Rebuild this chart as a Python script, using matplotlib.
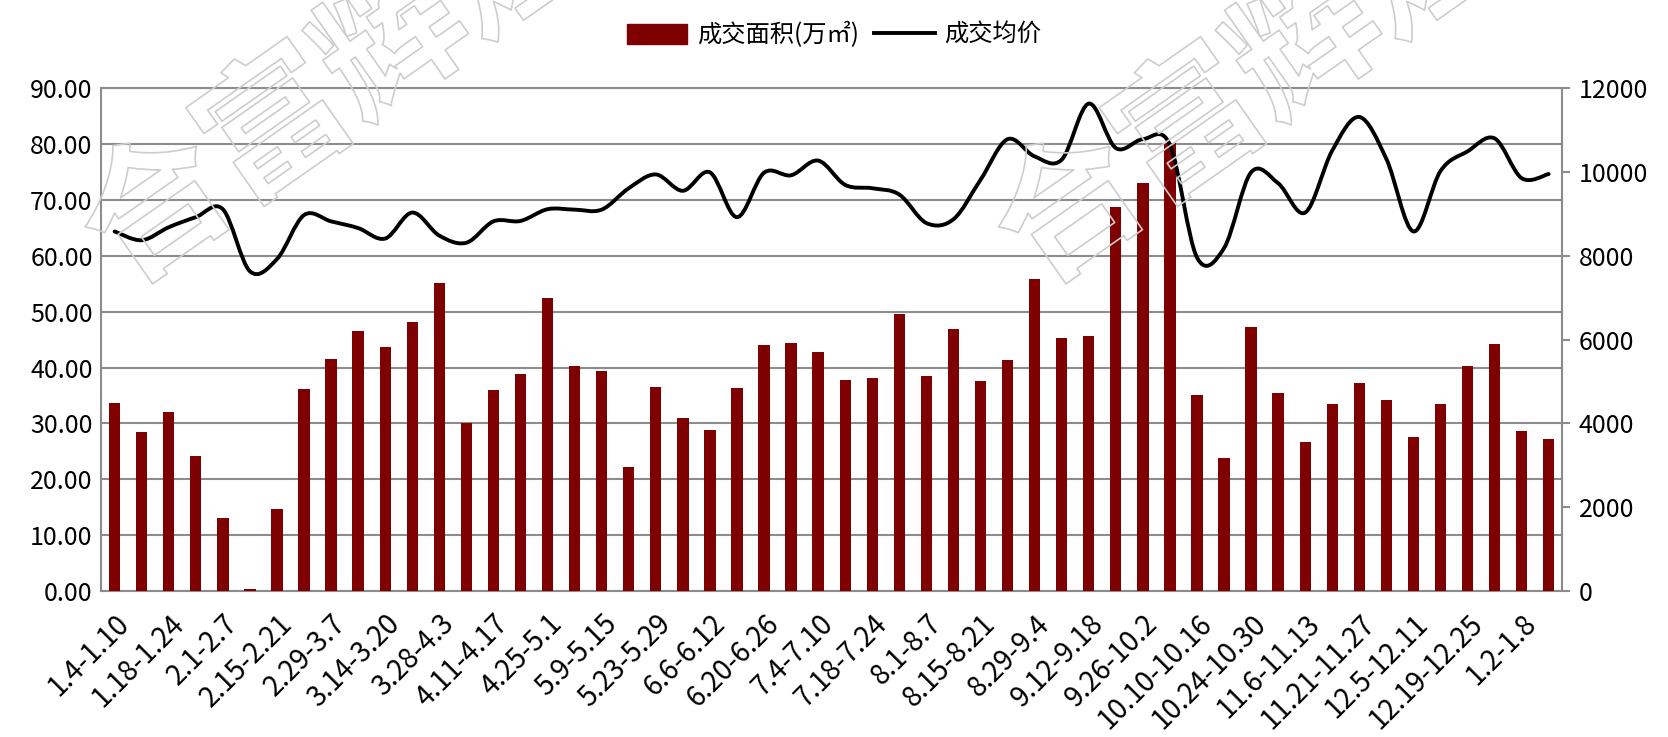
import matplotlib
matplotlib.use("Agg")
import matplotlib.pyplot as plt
import numpy as np
from matplotlib.path import Path
import matplotlib.patches as mpatches
from matplotlib.lines import Line2D
import matplotlib.patheffects as pe

plt.rcParams['font.family'] = ['Noto Sans CJK SC', 'DejaVu Sans']

# weekly labels (only every other week is printed on the axis)
shown_labels = ["1.4-1.10", "1.18-1.24", "2.1-2.7", "2.15-2.21", "2.29-3.7", "3.14-3.20",
                "3.28-4.3", "4.11-4.17", "4.25-5.1", "5.9-5.15", "5.23-5.29", "6.6-6.12",
                "6.20-6.26", "7.4-7.10", "7.18-7.24", "8.1-8.7", "8.15-8.21", "8.29-9.4",
                "9.12-9.18", "9.26-10.2", "10.10-10.16", "10.24-10.30", "11.6-11.13",
                "11.21-11.27", "12.5-12.11", "12.19-12.25", "1.2-1.8"]

# 成交面积 (万㎡)
area = [33.7, 28.4, 32.0, 24.2, 13.1, 0.4, 14.7, 36.2, 41.5, 46.6,
        43.7, 48.1, 55.1, 30.0, 36.0, 38.9, 52.5, 40.3, 39.3, 22.2,
        36.6, 31.0, 28.8, 36.3, 44.0, 44.4, 42.8, 37.8, 38.1, 49.6,
        38.5, 46.9, 37.6, 41.3, 55.9, 45.2, 45.6, 68.8, 73.0, 80.1,
        35.0, 23.8, 47.3, 35.5, 26.7, 33.4, 37.3, 34.1, 27.5, 33.4,
        40.3, 44.2, 28.6, 27.2]

# 成交均价
price = [8580, 8370, 8680, 8920, 9110, 7630, 7920, 8970, 8820, 8660,
         8410, 9030, 8480, 8310, 8820, 8830, 9110, 9100, 9100, 9610,
         9940, 9550, 9990, 8920, 9980, 9920, 10270, 9690, 9610, 9460,
         8780, 8870, 9810, 10780, 10370, 10290, 11630, 10570, 10780, 10650,
         7960, 8180, 9990, 9730, 9030, 10510, 11310, 10310, 8580, 10020,
         10490, 10800, 9850, 9950]

bar_color = '#7f0000'
grid_color = '#8c8c8c'

fig = plt.figure(figsize=(16.68, 7.37), dpi=100)
ax = fig.add_axes([0.0606, 0.198, 0.876, 0.6825])
ax2 = ax.twinx()

x = np.arange(len(area))

# watermark
for cx in [0.2014, 0.749]:
    fig.text(cx, 0.88, "合富辉煌", fontsize=104, rotation=35, ha='center', va='center',
             color='none', fontweight='bold', zorder=0,
             path_effects=[pe.withStroke(linewidth=1.2, foreground='#cdcdcd')])

ax.bar(x, area, width=0.42, color=bar_color, zorder=3)
ax.set_ylim(0, 90)
ax.set_yticks(np.arange(0, 91, 10))
ax.set_yticklabels(['%.2f' % v for v in np.arange(0, 91, 10)], fontsize=18)
ax.yaxis.grid(True, color=grid_color, linewidth=1.5, zorder=0)
ax.set_axisbelow(True)
ax.set_xlim(-0.5, len(area) - 0.5)
ax.set_xticks(x[::2])
ax.set_xticklabels(shown_labels, rotation=45, ha='right', rotation_mode='anchor', fontsize=20)
ax.tick_params(axis='x', length=0, pad=13)
ax.tick_params(axis='y', length=0, pad=6)
for s in ['left', 'right', 'bottom', 'top']:
    ax.spines[s].set_color(grid_color)
    ax.spines[s].set_linewidth(1.5)
ax.patch.set_alpha(0)

# smoothed price line (Catmull-Rom style bezier like the spreadsheet chart)
pts = np.column_stack([x, price]).astype(float)
ext = np.vstack([pts[0], pts, pts[-1]])
verts = [tuple(pts[0])]
codes = [Path.MOVETO]
for i in range(len(pts) - 1):
    p0, p1, p2, p3 = ext[i], ext[i + 1], ext[i + 2], ext[i + 3]
    c1 = p1 + (p2 - p0) / 6.0
    c2 = p2 - (p3 - p1) / 6.0
    verts += [tuple(c1), tuple(c2), tuple(p2)]
    codes += [Path.CURVE4] * 3
line_patch = mpatches.PathPatch(Path(verts, codes), facecolor='none', edgecolor='black',
                                linewidth=2.8, capstyle='round', joinstyle='round', zorder=4)
ax2.add_patch(line_patch)
ax2.set_ylim(0, 12000)
ax2.set_yticks(np.arange(0, 12001, 2000))
ax2.tick_params(axis='y', labelsize=18, length=6, width=1.5, color=grid_color, pad=6)
for s in ['left', 'right', 'bottom', 'top']:
    ax2.spines[s].set_visible(False)

handles = [mpatches.Patch(color=bar_color, label='成交面积(万㎡)'),
           Line2D([], [], color='black', linewidth=2.8, label='成交均价')]
fig.legend(handles=handles, loc='upper center', bbox_to_anchor=(0.5, 1.0), ncol=2,
           frameon=False, fontsize=17.5, handlelength=2.5, handleheight=0.9,
           columnspacing=0.6, handletextpad=0.4)

fig.savefig('out.png', dpi=100)
